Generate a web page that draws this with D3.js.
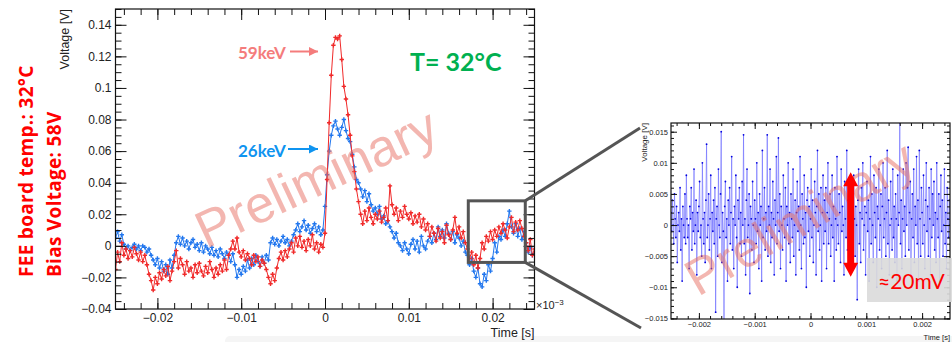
<!DOCTYPE html>
<html lang="en">
<head>
<meta charset="UTF-8">
<title>Pulse shape at 32°C</title>
<script src="https://d3js.org/d3.v7.min.js"></script>
<style>
  body { margin: 0; background: #fff; }
  svg { display: block; }
  .tick text { font-family: "Liberation Sans", Arial, sans-serif; fill: #222; }
  .tick line { stroke: #111; }
  .lbl { font-family: Lato, "Open Sans", sans-serif; font-weight: bold; }
  .note { font-family: "Open Sans", Lato, sans-serif; font-weight: bold; letter-spacing: 0.3px; }
</style>
</head>
<body>
<svg id="chart"></svg>
<script>
const width = 952, height = 342;

// main waveforms, sampled every 0.25 ms from -25 ms to +25 ms, values in mV
const mainStart = -25, mainStep = 0.25;
const blue26 = [
  5, 9, 3, 7,  1, -2, 0, -3,  -1, 1, -2, 0,  -3, 0, -1, -4,
  -2, -6, -9, -12,  -8, -14, -10, -16,  -12, -18, -9, -14,  -6, 2, 6, 1,
  5, 0, 3, -2,  2, 4, -1, 1,  -3, 2, -4, 0,  -2, -5, -1, -6,
  -3, -7, -2, -5,  -8, -4, -6, -10,  -5, -12, -20, -15,  -18, -13, -16, -9,
  -14, -8, -12, -6,  -10, -13, -7, -11,  -6, -9, 2, 5,  1, 4, 0, 3,
  6, 2, 4, 0,  3, 7, 10, 14,  9, 12, 16, 10,  13, 8, 11, 14,
  9, 12, 7, 10,
  25, 45, 60, 70,  76, 79, 74, 70,  75, 80, 73, 68,  66, 58, 50, 42,
  40, 36, 31, 35,  28, 33, 26, 22,  24, 20, 25, 17,  19, 14, 16, 12,
  9, 5, 8, 2,  0, -3, 2, -2,  -5, 1, 4, -2,  3, -4, 6, 0,
  -2, 3, 6, 2,  8, 4, 12, 6,  10, 5, 14, 8,  4, 9, 2, 7,
  5, 0, 3, -4,  -6, -12, -8, -16,  -20, -14, -24, -26,  -18, -22, -12, -16,
  -8, 2, -4, 6,  4, 10, 6, 14,  22, 12, 8, 14,  6, 11, 4, 9,
  2, -4, -1, -6,  -5
];
const red59 = [
  -15, -4, -10, 2,  -6, -2, -8, -3,  -7, -1, -5, -9,  -4, -10, -6, -12,
  -18, -22, -28, -20,  -24, -17, -21, -15,  -19, -13, -22, -16,  -10, -3, -14, -8,
  -12, -18, -10, -16,  -14, -20, -12, -17,  -11, -16, -19, -13,  -17, -10, -15, -20,
  -14, -18, -12, -16,  -9, -15, -6, -2,  3, -2, 5, -4,  -7, -3, -9, -5,
  -8, -12, -6, -10,  -7, -13, -9, -11,  -15, -20, -24, -18,  -22, -14, -8, -4,
  -9, -3, -7, -2,  2, -4, 5, 0,  6, -1, 3, -3,  4, 0, 7, -2,
  2, -4, 1, -1,
  8, 42, 78, 108,  127, 132, 131, 133,  118, 101, 93, 83,  70, 57, 47, 36,
  28, 20, 14, 22,  16, 24, 18, 14,  20, 17, 22, 15,  18, 24, 16, 38,
  26, 20, 24, 16,  22, 18, 25, 20,  17, 21, 14, 19,  15, 20, 12, 17,
  10, 14, 6, 12,  8, 3, 11, 5,  9, 2, 13, 7,  4, 10, 18, 8,
  12, 5, 9, 2,  -2, -8, -4, -12,  -6, -14, -8, 2,  -2, 6, 3, 9,
  4, 10, 6, 12,  8, 14, 10, 5,  12, 18, 9, 15,  10, 16, 11, 6,
  2, -3, 4, -6,  -2
];

// zoomed baseline noise, sampled every 0.0125 ms from -2.5 ms to +2.5 ms, values in mV
const noiseStart = -2.5, noiseStep = 0.0125;
const noise = [
  2, -1, 4, 0, -3, 5, 1, -2, 3, -6, 0, 2, -1, 6, -4, 1, -9, 3, 0, -2,
  5, -3, 8, 1, -2, 0, -7, 3, 1, 6, -4, 2, -1, 9, -3, 0, 4, -8, 2, -1,
  3, 7, -2, 0, -5, 10, 1, -3, 2, -6, 4, 13, -2, 0, 5, -4, 1, 8, -7, 2,
  -1, 4, -3, 6, -14, 1, 3, -5, 9, 0, -2, 5, 15, -6, 2, -1, -15.5, 3, 7, -2,
  1, -9, 4, 0, 6, -3, 2, 11, -4, 1, -7, 3, 0, 8, -2, -10, 4, 1, 6, -3,
  2, -5, 7, 0, 14.5, -3, 1, -8, 4, 9, -2, 0, 5, -11, 3, 1, -4, 7, 0, -6,
  4, 1, -3, 10, -1, 2, -7, 5, 0, 3, -9, 12, -2, 1, 6, -4, 2, -1, 14.5, -5,
  3, 0, 9, -6, 2, -2, 7, 1, -8, 4, 0, 11, -3, 2, 14, -1, 5, -7, 3, 0,
  -4, 8, 1, -2, 6, -9, 3, 0, 10, -3, 2, -6, 5, 1, -2, 9, -5, 0, 4, -8,
  2, 7, -1, 3, -4, 11, 0, -7, 5, 1, -3, 8, -2, 2, -10, 4, 6, -1, 3, -5,
  1, 9, -2, 4, -6, 0, 7, 2, -8, 3, 12, -1, 5, -4, 0, 6, -9, 2, 8, -3,
  4, -1, 6, -7, 2, 10, -3, 1, 5, -5, 0, 8, -2, 3, -9, 6, 1, -4, 11, 0,
  -3, 5, 2, -6, 9, -1, 3, 0, -8, 7, 1, -2, 12, -4, 4, 0, -7, 6, 2, -3,
  5, -2, 8, 1, -5, 3, 0, -12, 4, 9, -3, 2, -6, 6, 1, 10, -4, 0, 3, -8,
  2, 7, -1, 4, -9, 1, 11, -3, 5, 0, -6, 8, 2, -2, 6, -10, 3, 1, 9, -4,
  0, 5, -7, 3, 10, -2, 1, 6, -5, 2, 12, -3, 4, -8, 0, 7, 1, -4, 9, -2,
  3, -6, 5, 1, -9, 8, 0, 2, 16.5, -3, 4, -7, 1, 9, -1, 3, -5, 10, 0, 6,
  12.5, -4, 2, 7, -8, 1, 5, -2, 9, -6, 3, 0, 11, -3, 4, -9, 12, 1, -5, 6,
  2, -3, 8, 0, -7, 4, 10, -1, 3, -5, 6, 1, -8, 9, -2, 5, 0, 7, -4, 2,
  -6, 10, 1, -2, 5, -9, 3, 8, -1, 4, -5, 0, 9, -3, 2, -7, 6, 1, -2, 4,
  0
];

const mainXTicks = [-20, -10, 0, 10, 20];
const mainYTicks = [-40, -20, 0, 20, 40, 60, 80, 100, 120, 140];
const insetXTicks = [-2, -1, 0, 1, 2];
const insetYTicks = [-15, -10, -5, 0, 5, 10, 15];

const svg = d3.select("#chart").attr("width", width).attr("height", height);

// faint grey strip along the bottom of the slide
svg.append("rect").attr("x", 225).attr("y", 336).attr("width", 740).attr("height", 10)
  .attr("rx", 5).attr("fill", "#f5f5f5");

const fmt = v => v === 0 ? "0" : String(+(v / 1000).toFixed(4)).replace("-", "\u2212");

// ---------------- main plot ----------------
const x = d3.scaleLinear().domain([-25, 25]).range([115.5, 534.5]);
const y = d3.scaleLinear().domain([-40, 150]).range([309, 9]);

const main = svg.append("g");
main.append("defs").append("clipPath").attr("id", "clipMain")
  .append("rect").attr("x", 115.5).attr("y", 9).attr("width", 419).attr("height", 300);

function axes(g, xs, ys, o) {
  const [x0, x1] = xs.range(), [y0, y1] = ys.range();
  const put = (axis, tx, ty) => g.append("g").attr("transform", `translate(${tx},${ty})`).call(axis)
    .call(s => s.select(".domain").remove());
  // bottom
  put(d3.axisBottom(xs).tickValues(o.xTicks).tickSize(-o.major).tickSizeOuter(0)
      .tickPadding(o.pad).tickFormat(fmt), 0, y0)
    .selectAll("text").attr("font-size", o.font);
  put(d3.axisBottom(xs).tickValues(o.xMinor).tickSize(-o.minor).tickSizeOuter(0).tickFormat(""), 0, y0);
  // top
  put(d3.axisTop(xs).tickValues(o.xTicks).tickSize(-o.major).tickSizeOuter(0).tickFormat(""), 0, y1);
  put(d3.axisTop(xs).tickValues(o.xMinor).tickSize(-o.minor).tickSizeOuter(0).tickFormat(""), 0, y1);
  // left
  put(d3.axisLeft(ys).tickValues(o.yTicks).tickSize(-o.major).tickSizeOuter(0)
      .tickPadding(o.pad).tickFormat(fmt), x0, 0)
    .selectAll("text").attr("font-size", o.font);
  put(d3.axisLeft(ys).tickValues(o.yMinor).tickSize(-o.minor).tickSizeOuter(0).tickFormat(""), x0, 0);
  // right
  put(d3.axisRight(ys).tickValues(o.yTicks).tickSize(-o.major).tickSizeOuter(0).tickFormat(""), x1, 0);
  put(d3.axisRight(ys).tickValues(o.yMinor).tickSize(-o.minor).tickSizeOuter(0).tickFormat(""), x1, 0);
  g.append("rect").attr("x", x0).attr("y", y1).attr("width", x1 - x0).attr("height", y0 - y1)
    .attr("fill", "none").attr("stroke", "#111").attr("stroke-width", 1.2);
}

function drawSeries(g, values, start, step, xs, ys, color, clip) {
  const pts = values.map((v, i) => [start + i * step, v]);
  const gg = g.append("g").attr("clip-path", `url(#${clip})`);
  gg.append("path").datum(pts)
    .attr("d", d3.line().x(d => xs(d[0])).y(d => ys(d[1])))
    .attr("fill", "none").attr("stroke", color).attr("stroke-width", 1);
  gg.selectAll(null).data(pts).enter().append("path")
    .attr("transform", d => `translate(${xs(d[0])},${ys(d[1])})`)
    .attr("d", "M-2.2,0H2.2M0,-2.2V2.2")
    .attr("stroke", color).attr("stroke-width", 1.4);
}

drawSeries(main, blue26, mainStart, mainStep, x, y, "#2277ee", "clipMain");
drawSeries(main, red59, mainStart, mainStep, x, y, "#f02a2a", "clipMain");

axes(main, x, y, {
  xTicks: mainXTicks, xMinor: d3.range(-24, 25, 2),
  yTicks: mainYTicks, yMinor: d3.range(-40, 151, 5),
  major: 11, minor: 6, pad: 4, font: 12
});

main.append("text").attr("transform", "translate(69,9) rotate(-90)")
  .attr("text-anchor", "end").attr("font-family", "Liberation Sans, Arial, sans-serif")
  .attr("font-size", 12.5).attr("fill", "#222").text("Voltage [V]");
main.append("text").attr("x", 534.5).attr("y", 337).attr("text-anchor", "end")
  .attr("font-family", "Liberation Sans, Arial, sans-serif").attr("font-size", 12.5)
  .attr("fill", "#222").text("Time [s]");
const ex = main.append("text").attr("x", 536).attr("y", 309)
  .attr("font-family", "Liberation Sans, Arial, sans-serif").attr("font-size", 11).attr("fill", "#222");
ex.append("tspan").text("\u00d710");
ex.append("tspan").attr("dy", -4).attr("font-size", 8).text("\u22123");

// watermark
main.append("text").attr("transform", "translate(206,249) rotate(-25)")
  .attr("font-family", "Liberation Sans, Arial, sans-serif").attr("font-size", 52)
  .attr("fill", "rgb(232,110,98)").attr("fill-opacity", 0.5).text("Preliminary");

// energy labels with arrows
const marker = (id, color) => svg.append("defs").append("marker").attr("id", id)
  .attr("viewBox", "0 0 10 10").attr("refX", 10).attr("refY", 5)
  .attr("markerWidth", 4.5).attr("markerHeight", 4.5).attr("orient", "auto")
  .append("path").attr("d", "M0,0L10,5L0,10Z").attr("fill", color);
marker("arrPink", "#f47c7c");
marker("arrBlue", "#0f94f0");

main.append("text").attr("class", "lbl").attr("x", 238).attr("y", 59)
  .attr("font-size", 17).attr("fill", "#f47c7c").text("59keV");
main.append("line").attr("x1", 290).attr("x2", 318).attr("y1", 51.5).attr("y2", 51.5)
  .attr("stroke", "#f47c7c").attr("stroke-width", 2).attr("marker-end", "url(#arrPink)");
main.append("text").attr("class", "lbl").attr("x", 238).attr("y", 157)
  .attr("font-size", 17).attr("fill", "#0f94f0").text("26keV");
main.append("line").attr("x1", 288).attr("x2", 318).attr("y1", 149).attr("y2", 149)
  .attr("stroke", "#0f94f0").attr("stroke-width", 2).attr("marker-end", "url(#arrBlue)");

main.append("text").attr("class", "lbl").attr("x", 410).attr("y", 71)
  .attr("font-size", 25).attr("fill", "#00b050").text("T= 32\u00b0C");

// side notes
svg.append("text").attr("class", "note").attr("transform", "translate(33,277) rotate(-90)")
  .attr("font-size", 19).attr("fill", "#ff0000").text("FEE board temp.: 32\u00b0C");
svg.append("text").attr("class", "note").attr("transform", "translate(61,277) rotate(-90)")
  .attr("font-size", 19).attr("fill", "#ff0000").text("Bias Voltage: 58V");

// ---------------- inset ----------------
const xi = d3.scaleLinear().domain([-2.5, 2.5]).range([671, 950]);
const yi = d3.scaleLinear().domain([-15.1, 16.4]).range([319, 123]);

// zoom window and connector lines
const zoomWin = { t0: 17.1, t1: 23.9, v0: -10.5, v1: 28.5 };
const bx0 = x(zoomWin.t0), bx1 = x(zoomWin.t1), by0 = y(zoomWin.v1), by1 = y(zoomWin.v0);
svg.append("rect").attr("x", bx0).attr("y", by0).attr("width", bx1 - bx0).attr("height", by1 - by0)
  .attr("fill", "none").attr("stroke", "#555").attr("stroke-width", 3);
svg.append("line").attr("x1", bx1).attr("y1", by0).attr("x2", 640).attr("y2", 128)
  .attr("stroke", "#555").attr("stroke-width", 3);
svg.append("line").attr("x1", bx1).attr("y1", by1).attr("x2", 641).attr("y2", 328)
  .attr("stroke", "#555").attr("stroke-width", 3);

const inset = svg.append("g");
inset.append("defs").append("clipPath").attr("id", "clipInset")
  .append("rect").attr("x", 671).attr("y", 123).attr("width", 279).attr("height", 196);

{
  const pts = noise.map((v, i) => [noiseStart + i * noiseStep, v]);
  const gg = inset.append("g").attr("clip-path", "url(#clipInset)");
  gg.append("path").datum(pts)
    .attr("d", d3.line().x(d => xi(d[0])).y(d => yi(d[1])))
    .attr("fill", "none").attr("stroke", "#6a6aff").attr("stroke-opacity", 0.7).attr("stroke-width", 0.9);
  gg.selectAll(null).data(pts).enter().append("circle")
    .attr("cx", d => xi(d[0])).attr("cy", d => yi(d[1])).attr("r", 0.9)
    .attr("fill", "#0000dd");
}

axes(inset, xi, yi, {
  xTicks: insetXTicks, xMinor: d3.range(-2.4, 2.5, 0.2),
  yTicks: insetYTicks, yMinor: d3.range(-15, 16.5, 1),
  major: 6, minor: 3, pad: 3, font: 7.5
});

inset.append("text").attr("transform", "translate(647,123) rotate(-90)")
  .attr("text-anchor", "end").attr("font-family", "Liberation Sans, Arial, sans-serif")
  .attr("font-size", 8).attr("fill", "#222").text("Voltage [V]");
inset.append("text").attr("x", 950).attr("y", 340).attr("text-anchor", "end")
  .attr("font-family", "Liberation Sans, Arial, sans-serif").attr("font-size", 7.5)
  .attr("fill", "#222").text("Time [s]");

inset.append("text").attr("transform", "translate(698,297) rotate(-30)")
  .attr("font-family", "Liberation Sans, Arial, sans-serif").attr("font-size", 51)
  .attr("fill", "rgb(232,110,98)").attr("fill-opacity", 0.5).text("Preliminary");

// double arrow showing noise amplitude
{
  const ax = xi(0.72), top = yi(8.5), bot = yi(-8.3);
  const sw = 3.5, hw = 7.5, hl = 14;
  inset.append("path")
    .attr("d", `M${ax},${top}L${ax + hw},${top + hl}L${ax + sw},${top + hl}L${ax + sw},${bot - hl}` +
      `L${ax + hw},${bot - hl}L${ax},${bot}L${ax - hw},${bot - hl}L${ax - sw},${bot - hl}` +
      `L${ax - sw},${top + hl}L${ax - hw},${top + hl}Z`)
    .attr("fill", "#ff0000");
}
inset.append("rect").attr("x", 867).attr("y", 258).attr("width", 90).attr("height", 44)
  .attr("fill", "#dadada").attr("fill-opacity", 0.9);
inset.append("text").attr("x", 878).attr("y", 289).attr("font-family", "Lato, sans-serif")
  .attr("font-size", 21).attr("fill", "#ff0000").text("\u224820mV");
</script>
</body>
</html>
